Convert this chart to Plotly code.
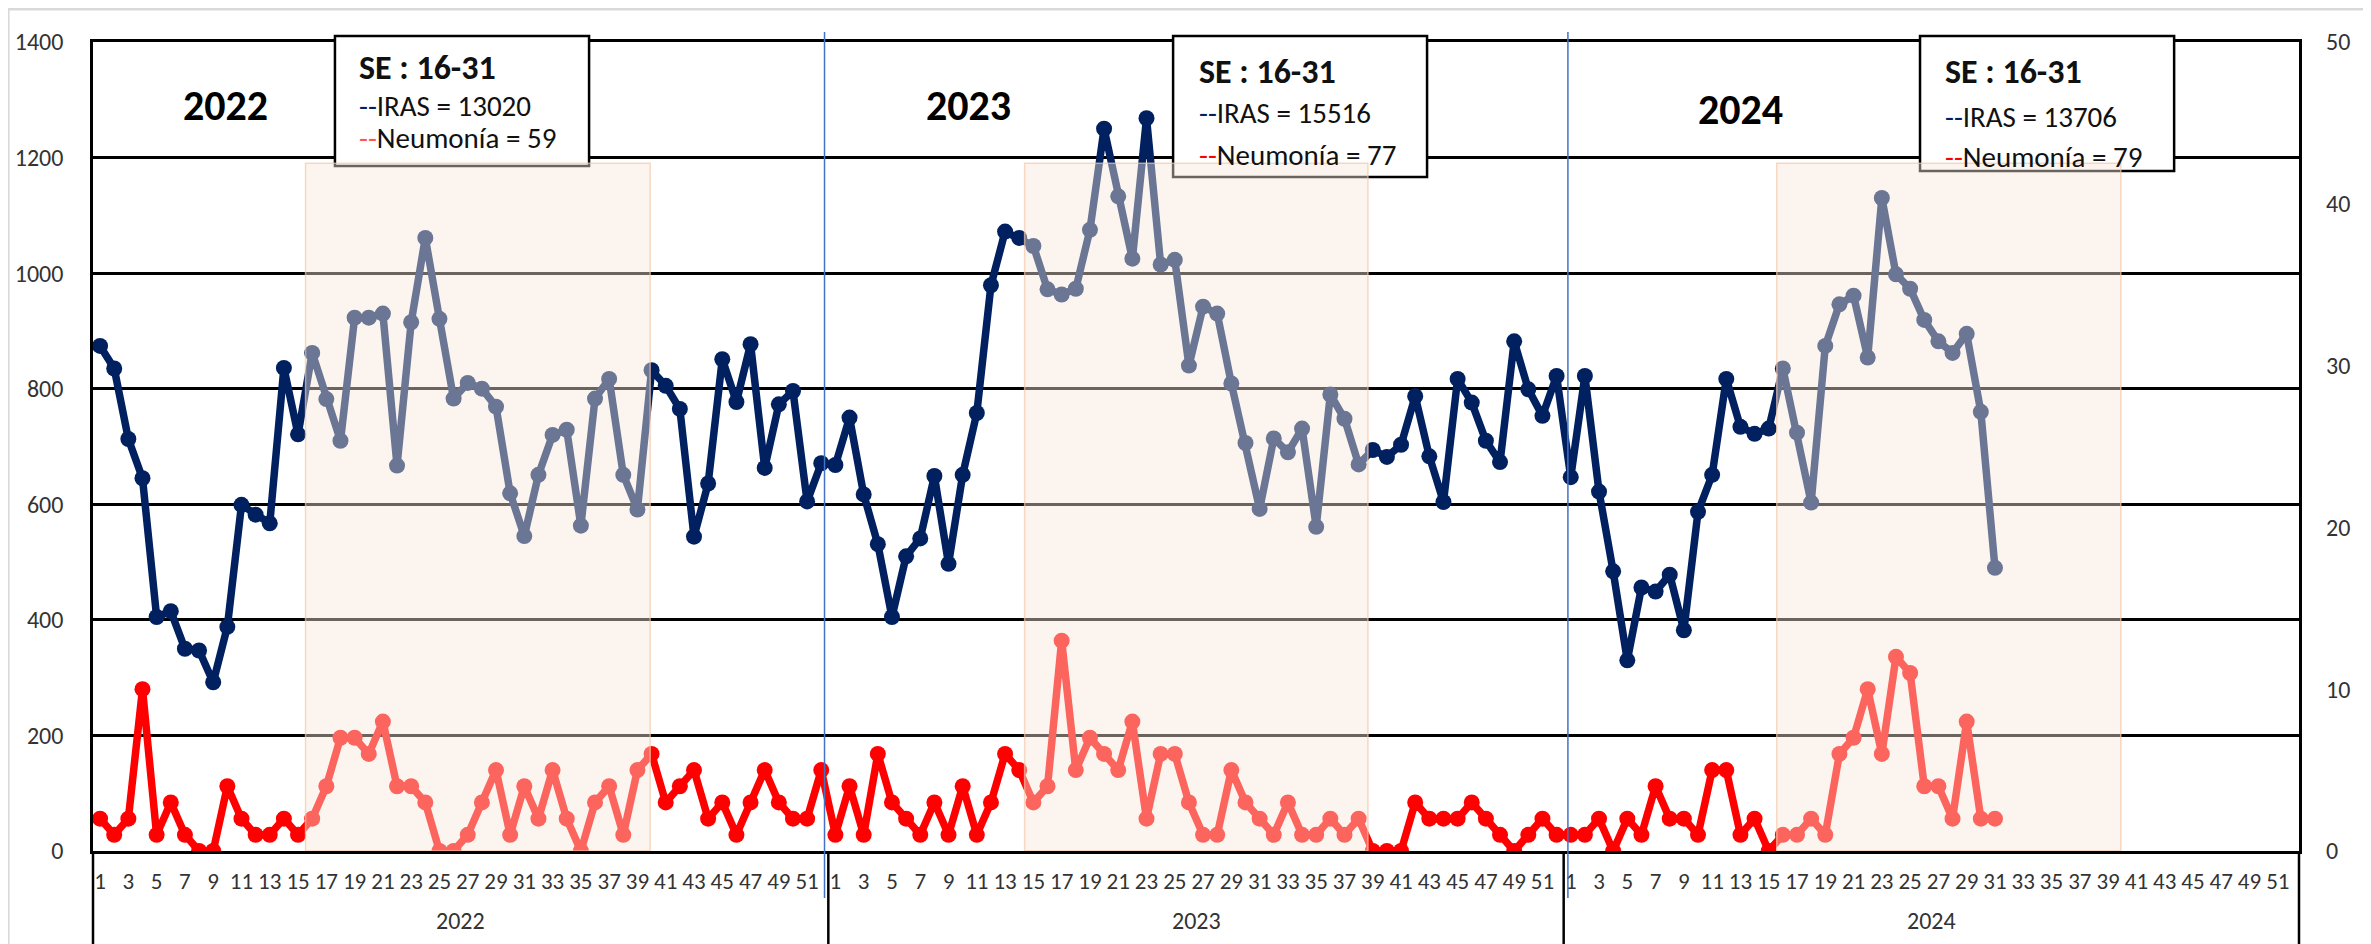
import plotly.graph_objects as go

# semanas epidemiológicas por año
years = ["2022", "2023", "2024"]
weeks_full = list(range(1, 53))

iras_2022 = [874, 835, 713, 645, 405, 415, 350, 347, 292, 388, 599, 582, 567, 836, 721, 862,
             782, 710, 923, 923, 930, 667, 915, 1061, 921, 783, 810, 800, 769, 619, 545, 651,
             720, 729, 563, 783, 817, 651, 591, 832, 805, 765, 544, 636, 851, 777, 877, 663,
             773, 796, 605, 671]
iras_2023 = [668, 750, 617, 531, 405, 510, 541, 649, 497, 651, 758, 979, 1072, 1061, 1047, 972,
             963, 973, 1075, 1250, 1133, 1025, 1268, 1015, 1023, 840, 942, 930, 809, 706, 592, 714,
             690, 731, 561, 790, 748, 669, 694, 682, 703, 787, 683, 604, 817, 776, 710, 673,
             882, 799, 753, 822]
iras_2024 = [647, 822, 622, 484, 330, 456, 449, 478, 382, 587, 651, 817, 734, 722, 731, 835,
             724, 603, 874, 946, 961, 854, 1130, 998, 973, 919, 882, 862, 895, 760, 490]

neumonia_2022 = [2, 1, 2, 10, 1, 3, 1, 0, 0, 4, 2, 1, 1, 2, 1, 2, 4, 7, 7, 6, 8, 4, 4, 3, 0, 0,
                 1, 3, 5, 1, 4, 2, 5, 2, 0, 3, 4, 1, 5, 6, 3, 4, 5, 2, 3, 1, 3, 5, 3, 2, 2, 5]
neumonia_2023 = [1, 4, 1, 6, 3, 2, 1, 3, 1, 4, 1, 3, 6, 5, 3, 4, 13, 5, 7, 6, 5, 8, 2, 6, 6, 3,
                 1, 1, 5, 3, 2, 1, 3, 1, 1, 2, 1, 2, 0, 0, 0, 3, 2, 2, 2, 3, 2, 1, 0, 1, 2, 1]
neumonia_2024 = [1, 1, 2, 0, 2, 1, 4, 2, 2, 1, 5, 5, 1, 2, 0, 1, 1, 2, 1, 6, 7, 10, 6, 12, 11, 4,
                 4, 2, 8, 2, 2]

# resumen SE 16-31 de cada año
resumen = [("13020", "59"), ("15516", "77"), ("13706", "79")]

NAVY = "#002060"
RED = "#ff0000"
FONT = "Calibri, Carlito, Lato, sans-serif"

# eje x continuo: índice de semana a lo largo de los 3 años
x_idx, iras, neum = [], [], []
for k, (ir, ne) in enumerate([(iras_2022, neumonia_2022), (iras_2023, neumonia_2023),
                              (iras_2024, neumonia_2024)]):
    for w in range(len(ir)):
        x_idx.append(k * 52 + w)
        iras.append(ir[w])
        neum.append(ne[w])

tickvals, ticktext = [], []
for k in range(3):
    for w in weeks_full[::2]:
        tickvals.append(k * 52 + w - 1)
        ticktext.append(str(w))

fig = go.Figure()
fig.add_trace(go.Scatter(x=x_idx, y=iras, mode="lines+markers", name="IRAS",
                         line=dict(color=NAVY, width=7.5), marker=dict(size=16, color=NAVY)))
fig.add_trace(go.Scatter(x=x_idx, y=neum, mode="lines+markers", name="Neumonía", yaxis="y2",
                         line=dict(color=RED, width=7.5), marker=dict(size=16, color=RED)))

shapes = []
# marco gris del área del gráfico
shapes.append(dict(type="line", xref="paper", yref="paper", x0=-0.0385, x1=1.1, y0=1.0408, y1=1.0408,
                   line=dict(color="#d9d9d9", width=3)))
shapes.append(dict(type="line", xref="paper", yref="paper", x0=-0.0385, x1=-0.0385, y0=1.0408, y1=-0.2,
                   line=dict(color="#d9d9d9", width=3)))
# líneas verticales de la tabla inferior
for xp in (0, 1):
    shapes.append(dict(type="line", xref="paper", yref="paper", x0=xp, x1=xp, y0=0, y1=-0.2,
                       line=dict(color="black", width=2.5)))
for xb in (51.5, 103.5):
    shapes.append(dict(type="line", xref="x", yref="paper", x0=xb, x1=xb, y0=0, y1=-0.2,
                       line=dict(color="black", width=2.5)))
# separadores azules de año
for xb in (51.23, 103.8):
    shapes.append(dict(type="line", xref="x", yref="paper", x0=xb, x1=xb, y0=1.0124, y1=-0.058,
                       line=dict(color="#4472c4", width=1.5), layer="above"))
# cuadros de resumen
boxes = [(16.61, 34.58, 0.8467), (75.88, 93.84, 0.8331), (128.7, 146.67, 0.8405)]
for x0, x1, yb in boxes:
    shapes.append(dict(type="rect", xref="x", yref="paper", x0=x0, x1=x1, y0=yb, y1=1.0074,
                       fillcolor="white", line=dict(color="black", width=2.5), layer="above"))
# sombreado SE 16-39 (sobre las series)
for x0, x1 in [(14.53, 38.9), (65.38, 89.66), (118.57, 142.9)]:
    shapes.append(dict(type="rect", xref="x", yref="y", x0=x0, x1=x1, y0=0, y1=1190,
                       fillcolor="rgba(248,232,218,0.43)",
                       line=dict(color="rgba(244,200,170,0.7)", width=1.5), layer="above"))

annotations = []
for yr, xc, yc in zip(years, (8.9, 61.4, 116.0), (0.9555, 0.9555, 0.9506)):
    annotations.append(dict(text="<b>" + yr + "</b>", x=xc, y=yc, xref="x", yref="paper",
                            showarrow=False, font=dict(family=FONT, size=42, color="black")))
for yr, xc in zip(years, (25.5, 77.5, 129.5)):
    annotations.append(dict(text=yr, x=xc, y=-0.1063, xref="x", yref="paper", showarrow=False,
                            font=dict(family=FONT, size=24, color="#333333")))

text_pos = [(18.17, (0.968, 0.921, 0.881), "#ff5555"),
            (77.58, (0.964, 0.912, 0.860), RED),
            (130.33, (0.963, 0.907, 0.858), RED)]
for (xl, rows, rc), (n_iras, n_neu) in zip(text_pos, resumen):
    lines = ["<b>SE : 16-31</b>",
             "<span style='color:%s'>--</span>IRAS = %s" % (NAVY, n_iras),
             "<span style='color:%s'>--</span>Neumonía = %s" % (rc, n_neu)]
    sizes = [34, 29, 29]
    for t, yy, sz in zip(lines, rows, sizes):
        annotations.append(dict(text=t, x=xl, y=yy, xref="x", yref="paper", xanchor="left",
                                yanchor="middle", showarrow=False,
                                font=dict(family=FONT, size=sz, color="#111111")))

# la página añade 8 px de margen al cuerpo: se compensa en los márgenes
fig.update_layout(
    width=2363, height=936,
    margin=dict(l=85, r=72, t=34, b=93),
    paper_bgcolor="white", plot_bgcolor="white",
    showlegend=False,
    font=dict(family=FONT, color="#333333"),
    xaxis=dict(range=[-0.5, 155.5], tickmode="array", tickvals=tickvals, ticktext=ticktext,
               tickangle=0, tickfont=dict(size=23, color="#333333"), showgrid=False,
               zeroline=False, showline=True, mirror=True, linecolor="black", linewidth=2.5,
               ticks="", ticklabelstandoff=8, automargin=False),
    yaxis=dict(range=[0, 1400], dtick=200, showgrid=True, gridcolor="black", gridwidth=2.5,
               zeroline=True, zerolinecolor="black", zerolinewidth=2.5,
               showline=True, mirror=True, linecolor="black", linewidth=2.5,
               tickfont=dict(size=24, color="#333333"), ticks="", ticklabelstandoff=22,
               automargin=False),
    yaxis2=dict(range=[0, 50], dtick=10, overlaying="y", side="right", showgrid=False,
                zeroline=False, showline=False, tickfont=dict(size=24, color="#333333"),
                ticks="", ticklabelstandoff=26, automargin=False),
    shapes=shapes,
    annotations=annotations,
)

fig.write_html("out.html")
